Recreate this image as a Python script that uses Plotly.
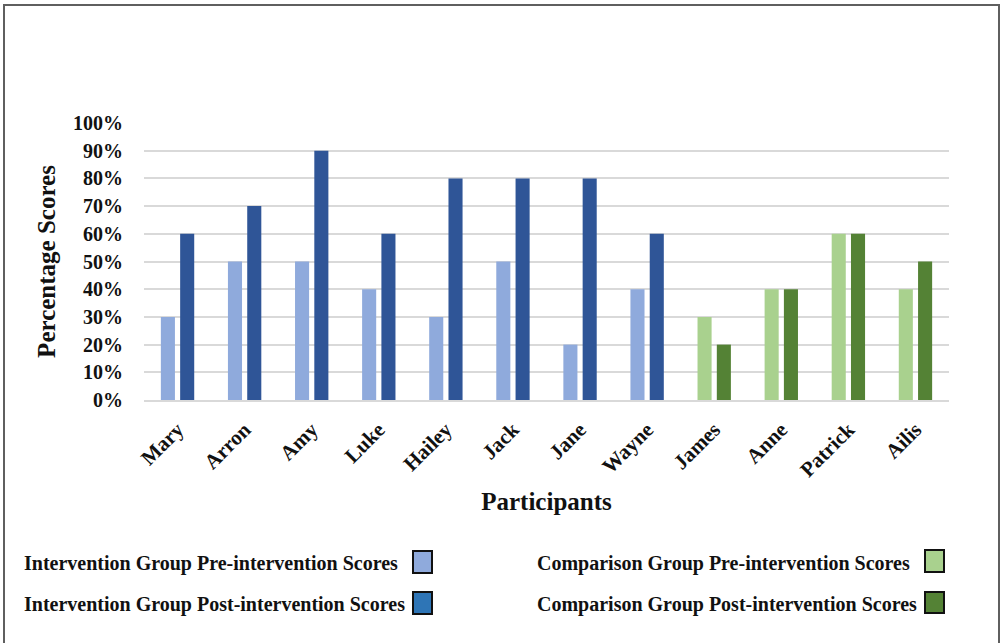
import plotly.graph_objects as go

participants = ["Mary", "Arron", "Amy", "Luke", "Hailey", "Jack", "Jane", "Wayne",
                "James", "Anne", "Patrick", "Ailis"]
intervention_names = ["Mary", "Arron", "Amy", "Luke", "Hailey", "Jack", "Jane", "Wayne"]
comparison_names = ["James", "Anne", "Patrick", "Ailis"]
intervention_pre = [30, 50, 50, 40, 30, 50, 20, 40]
intervention_post = [60, 70, 90, 60, 80, 80, 80, 60]
comparison_pre = [30, 40, 60, 40]
comparison_post = [20, 40, 60, 50]
y_ticks = [0, 10, 20, 30, 40, 50, 60, 70, 80, 90, 100]
y_tick_labels = ["0%", "10%", "20%", "30%", "40%", "50%", "60%", "70%", "80%", "90%", "100%"]

legend_labels = [
    "Intervention Group Pre-intervention Scores",
    "Intervention Group Post-intervention Scores",
    "Comparison Group Pre-intervention Scores",
    "Comparison Group Post-intervention Scores",
]

C_IPRE = "#8FAADC"
C_IPOST = "#2F5597"
C_IPOST_LEG = "#2E75B6"
C_CPRE = "#A9D18E"
C_CPOST = "#548235"

SERIF = "Liberation Serif, Times New Roman, serif"
INK = "#111111"

W, H = 1004, 643
L, R, T, B = 144, 949, 123, 400  # plot area in px


def px(x):
    return (x - L) / (R - L)


def py(y):
    return (B - y) / (B - T)


fig = go.Figure()
fig.add_bar(x=intervention_names, y=intervention_pre, name=legend_labels[0],
            marker_color=C_IPRE, offsetgroup="pre")
fig.add_bar(x=intervention_names, y=intervention_post, name=legend_labels[1],
            marker_color=C_IPOST, offsetgroup="post")
fig.add_bar(x=comparison_names, y=comparison_pre, name=legend_labels[2],
            marker_color=C_CPRE, offsetgroup="pre")
fig.add_bar(x=comparison_names, y=comparison_post, name=legend_labels[3],
            marker_color=C_CPOST, offsetgroup="post")
fig.update_traces(marker_line_width=0)

fig.update_layout(
    width=W, height=H,
    margin=dict(l=L, r=W - R, t=T, b=H - B, pad=0),
    paper_bgcolor="white", plot_bgcolor="white",
    barmode="group", bargap=0.425, bargroupgap=0.27,
    showlegend=False,
    font=dict(family=SERIF, color=INK),
)
fig.update_xaxes(
    type="category", categoryorder="array", categoryarray=participants,
    tickangle=-45, tickfont=dict(family=SERIF, size=21, weight="bold", color=INK),
    showline=True, linecolor="#D9D9D9", linewidth=2, ticks="", showgrid=False,
    ticklabelstandoff=7,
    title=dict(text="Participants", font=dict(family=SERIF, size=25, weight="bold", color=INK),
               standoff=12),
)
fig.update_yaxes(
    range=[0, 100], tickmode="array", tickvals=y_ticks, ticktext=y_tick_labels,
    tickfont=dict(family=SERIF, size=20, weight="bold", color=INK),
    showgrid=True, gridcolor="#D9D9D9", gridwidth=1.5, zeroline=False,
    showline=False, ticks="", ticklabelstandoff=20,
    title=dict(text="Percentage Scores", font=dict(family=SERIF, size=25, weight="bold", color=INK),
               standoff=10),
)

# outer frame
fig.add_shape(type="rect", xref="paper", yref="paper",
              x0=px(4), x1=px(999), y0=py(660), y1=py(5),
              line=dict(color="#5F5F5F", width=2), fillcolor="rgba(0,0,0,0)", layer="below")

# custom legend: text followed by a colour box
legend_items = [
    (legend_labels[0], C_IPRE, 22, 413, 563, 551, 573),
    (legend_labels[1], C_IPOST_LEG, 22, 413, 604, 592, 614),
    (legend_labels[2], C_CPRE, 535, 925, 563, 550, 572),
    (legend_labels[3], C_CPOST, 535, 925, 604, 592, 613),
]
for text, col, tx, bx, ty, by0, by1 in legend_items:
    fig.add_annotation(xref="paper", yref="paper", x=px(tx), y=py(ty), text=text,
                       showarrow=False, xanchor="left", yanchor="middle",
                       font=dict(family=SERIF, size=20, weight="bold", color=INK))
    fig.add_shape(type="rect", xref="paper", yref="paper",
                  x0=px(bx), x1=px(bx + 19), y0=py(by1), y1=py(by0),
                  fillcolor=col, line=dict(color=INK, width=2))

fig.write_html("out.html")
